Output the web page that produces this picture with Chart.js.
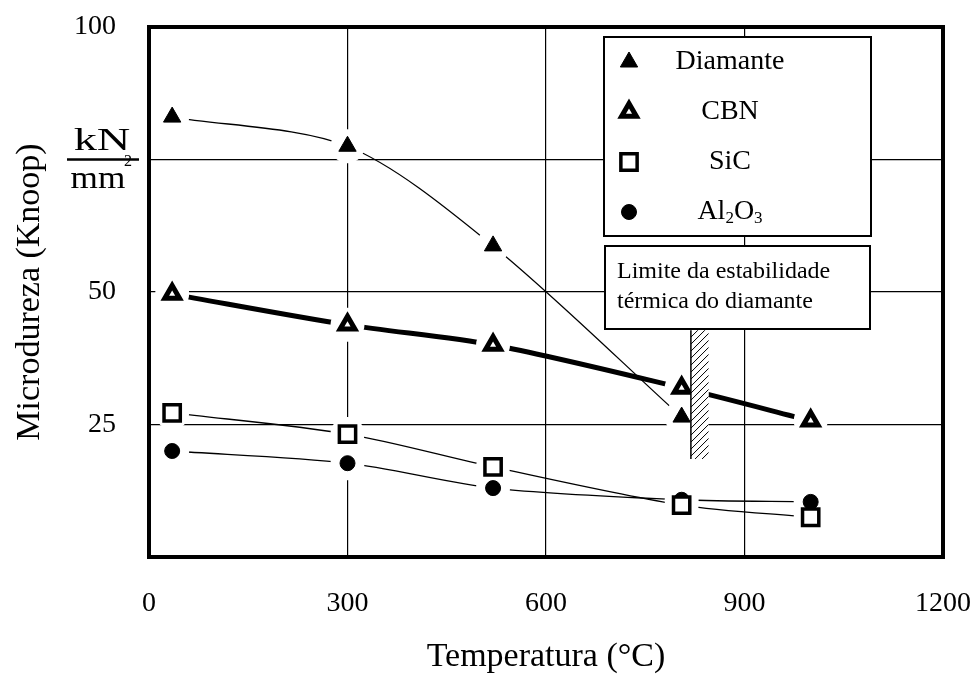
<!DOCTYPE html>
<html>
<head>
<meta charset="utf-8">
<script src="https://cdn.jsdelivr.net/npm/chart.js@4.4.1/dist/chart.umd.min.js"></script>
<style>
  html, body { margin: 0; padding: 0; background: #fff; }
  #wrap { width: 971px; height: 677px; }
</style>
</head>
<body>
<div id="wrap"><canvas id="chart"></canvas></div>
<script>
// values (temperature in °C, hardness in kN/mm2)
const temps = [35, 300, 520, 805, 1000];
const diamante = [83.0, 77.5, 58.7, 26.4];
const cbn = [49.6, 43.8, 40.0, 31.9, 25.7];
const sic = [27.2, 23.2, 17.0, 9.8, 7.5];
const al2o3 = [20.0, 17.7, 13.0, 10.8, 10.4];
const seriesNames = ["Diamante", "CBN", "SiC", "Al2O3"];
const yTickLabels = { 100: "100", 50: "50", 25: "25" };
// thermal stability limit band: x from, x to, y from, y to
const limitBand = [819, 846, 18.5, 42.8];
const noteLines = ["Limite da estabilidade", "térmica do diamante"];

const FONT = "'Liberation Serif', 'Times New Roman', serif";

// marker look per series
const looks = [
  { style: "triangle", fill: "#000", bw: 1, r: 10, lw: 1.3 },
  { style: "triangle", fill: "#fff", bw: 5, r: 8.5, lw: 5 },
  { style: "rect", fill: "#fff", bw: 3.5, r: 11.5, lw: 1.3 },
  { style: "circle", fill: "#000", bw: 1, r: 7.5, lw: 1.3 }
];
const seriesData = [diamante, cbn, sic, al2o3];

const pts = vals => vals.map((v, i) => ({ x: temps[i], y: v }));

// lines at the back, white halos over them, markers on top
const lineSets = seriesData.map((d, i) => ({
  label: seriesNames[i] + " line",
  data: pts(d),
  showLine: true,
  borderColor: "#000",
  borderWidth: looks[i].lw,
  tension: 0.3,
  pointRadius: 0,
  fill: false,
  order: 2
}));
const haloSets = seriesData.map((d, i) => ({
  label: seriesNames[i] + " halo",
  data: pts(d),
  showLine: false,
  pointStyle: "circle",
  pointRadius: 17,
  pointBackgroundColor: "#fff",
  pointBorderWidth: 0,
  order: 1
}));
const markSets = seriesData.map((d, i) => ({
  label: seriesNames[i],
  data: pts(d),
  showLine: false,
  pointStyle: looks[i].style,
  pointRadius: looks[i].r,
  pointBackgroundColor: looks[i].fill,
  pointBorderColor: "#000",
  pointBorderWidth: looks[i].bw,
  order: 0
}));

function drawMarker(ctx, look, x, y) {
  ctx.save();
  ctx.fillStyle = look.fill;
  ctx.strokeStyle = "#000";
  ctx.lineWidth = look.bw;
  Chart.helpers.drawPoint(ctx, { pointStyle: look.style, radius: look.r, borderWidth: look.bw }, x, y);
  ctx.restore();
}

// text like Al2O3 with subscript digits, centered on cx
function drawFormula(ctx, text, cx, cy, size) {
  const parts = text.split(/(\d)/).filter(s => s !== "");
  const big = size + "px " + FONT, small = Math.round(size * 0.6) + "px " + FONT;
  let w = 0;
  parts.forEach(p => { ctx.font = /\d/.test(p) ? small : big; w += ctx.measureText(p).width; });
  let x = cx - w / 2;
  ctx.textAlign = "left";
  ctx.textBaseline = "middle";
  parts.forEach(p => {
    const sub = /\d/.test(p);
    ctx.font = sub ? small : big;
    ctx.fillText(p, x, sub ? cy + size * 0.22 : cy);
    x += ctx.measureText(p).width;
  });
}

const decor = {
  id: "decor",
  beforeDraw(chart) {
    const ctx = chart.ctx;
    ctx.save();
    ctx.fillStyle = "#fff";
    ctx.fillRect(0, 0, chart.width, chart.height);
    ctx.restore();
  },
  afterDatasetsDraw(chart) {
    const ctx = chart.ctx, ca = chart.chartArea;
    const xs = chart.scales.x, ys = chart.scales.y;
    ctx.save();

    // hatched band
    const bx0 = xs.getPixelForValue(limitBand[0]), bx1 = xs.getPixelForValue(limitBand[1]);
    const by0 = ys.getPixelForValue(limitBand[3]), by1 = ys.getPixelForValue(limitBand[2]);
    const bw = bx1 - bx0;
    ctx.fillStyle = "#fff";
    ctx.fillRect(bx0, by0, bw, by1 - by0);
    ctx.save();
    ctx.beginPath();
    ctx.rect(bx0, by0, bw, by1 - by0);
    ctx.clip();
    ctx.beginPath();
    ctx.strokeStyle = "#000";
    ctx.lineWidth = 1;
    for (let k = by0 - bw; k < by1 + bw; k += 7) {
      ctx.moveTo(bx0, k + bw);
      ctx.lineTo(bx1, k);
    }
    ctx.stroke();
    ctx.restore();
    ctx.beginPath();
    ctx.lineWidth = 1.5;
    ctx.moveTo(bx0, by0);
    ctx.lineTo(bx0, by1);
    ctx.stroke();

    // legend box
    const lx = ca.right - 339, ly = ca.top + 10, lw = 267, lh = 199;
    ctx.fillStyle = "#fff";
    ctx.fillRect(lx, ly, lw, lh);
    ctx.lineWidth = 2;
    ctx.strokeStyle = "#000";
    ctx.strokeRect(lx, ly, lw, lh);
    seriesNames.forEach((name, i) => {
      const ry = ly + 25 + i * 50;
      drawMarker(ctx, looks[i], lx + 25, ry);
      ctx.fillStyle = "#000";
      drawFormula(ctx, name, lx + 126, ry, 28);
    });

    // note box
    const nx = ca.right - 338, ny = ca.top + 219, nw = 265, nh = 83;
    ctx.fillStyle = "#fff";
    ctx.fillRect(nx, ny, nw, nh);
    ctx.lineWidth = 2;
    ctx.strokeRect(nx, ny, nw, nh);
    ctx.fillStyle = "#000";
    ctx.font = "24px " + FONT;
    ctx.textAlign = "left";
    ctx.textBaseline = "middle";
    noteLines.forEach((t, i) => ctx.fillText(t, nx + 12, ny + 26 + i * 30));

    // heavy frame
    ctx.lineWidth = 4;
    ctx.strokeRect(ca.left, ca.top, ca.right - ca.left, ca.bottom - ca.top);
    ctx.restore();
  },
  afterDraw(chart) {
    // kN / mm2 unit written at the 75 line
    const ctx = chart.ctx;
    const y75 = chart.scales.y.getPixelForValue(75);
    ctx.save();
    ctx.fillStyle = "#000";
    ctx.strokeStyle = "#000";
    ctx.lineWidth = 2.5;
    ctx.beginPath();
    ctx.moveTo(67, y75);
    ctx.lineTo(139, y75);
    ctx.stroke();
    ctx.textAlign = "center";
    ctx.textBaseline = "alphabetic";
    ctx.font = "32px " + FONT;
    ctx.save();
    ctx.translate(102, y75 - 10);
    ctx.scale(1.45, 1);
    ctx.fillText("kN", 0, 0);
    ctx.restore();
    ctx.save();
    ctx.translate(98, y75 + 28);
    ctx.scale(1.1, 1);
    ctx.fillText("mm", 0, 0);
    ctx.restore();
    ctx.font = "16px " + FONT;
    ctx.fillText("2", 128, y75 + 6);
    ctx.restore();
  }
};

new Chart(document.getElementById("chart"), {
  type: "scatter",
  data: { datasets: [...markSets, ...haloSets, ...lineSets] },
  options: {
    responsive: true,
    maintainAspectRatio: false,
    animation: false,
    events: [],
    layout: { padding: 0 },
    plugins: { legend: { display: false }, tooltip: { enabled: false } },
    scales: {
      x: {
        type: "linear",
        min: 0,
        max: 1200,
        afterFit: s => { s.height = 120; s.paddingLeft = 0; s.paddingRight = 28; },
        grid: { color: "#000", lineWidth: 1.2, drawTicks: false },
        border: { display: false },
        ticks: {
          stepSize: 300,
          autoSkip: false,
          maxRotation: 0,
          padding: 30,
          color: "#000",
          font: { family: FONT, size: 28 },
          callback: v => String(v)
        },
        title: {
          display: true,
          text: "Temperatura (°C)",
          color: "#000",
          font: { family: FONT, size: 34 },
          padding: { top: 0, bottom: 0 }
        }
      },
      y: {
        type: "linear",
        min: 0,
        max: 100,
        afterFit: s => { s.width = 149; s.paddingTop = 27; s.paddingBottom = 0; },
        grid: { color: "#000", lineWidth: 1.2, drawTicks: false },
        border: { display: false },
        ticks: {
          stepSize: 25,
          padding: 33,
          color: "#000",
          font: { family: FONT, size: 28 },
          callback: v => yTickLabels[v] || ""
        },
        title: {
          display: true,
          text: "Microdureza (Knoop)",
          color: "#000",
          font: { family: FONT, size: 34 },
          padding: { top: 10, bottom: 0 }
        }
      }
    }
  },
  plugins: [decor]
});
</script>
</body>
</html>
